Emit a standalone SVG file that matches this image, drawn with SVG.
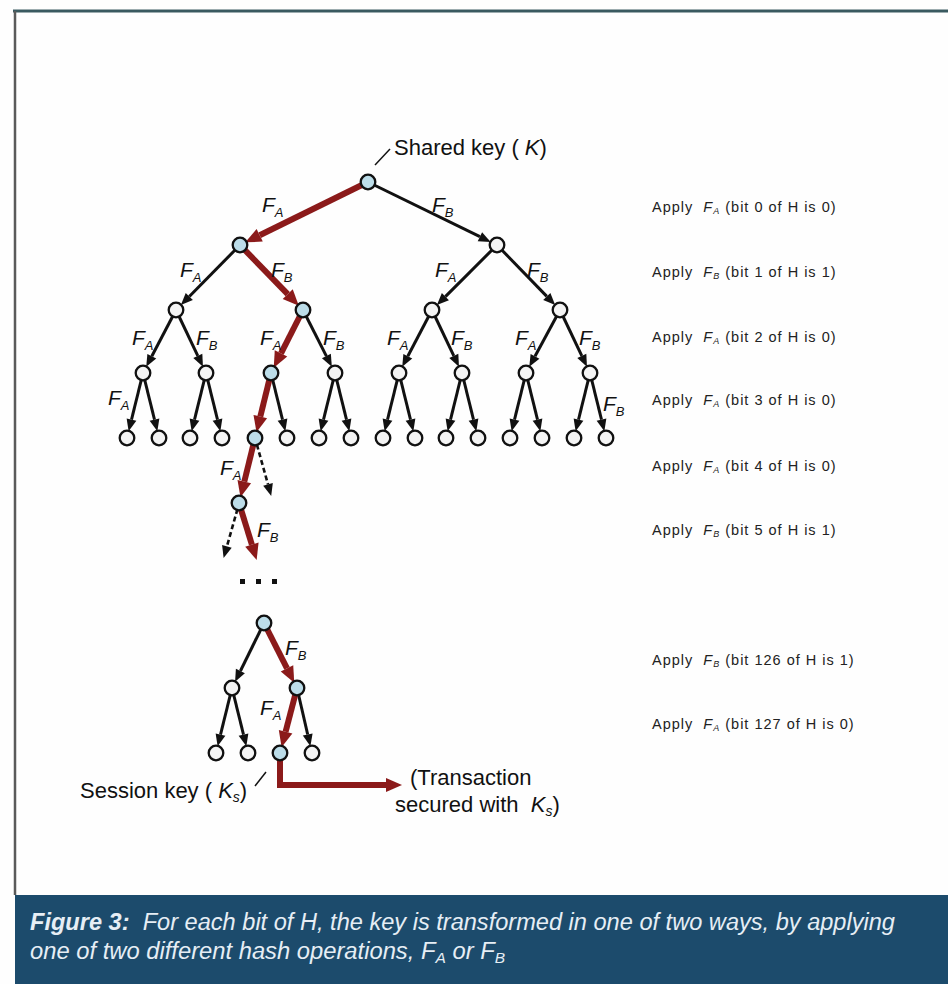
<svg xmlns="http://www.w3.org/2000/svg" width="948" height="984" viewBox="0 0 948 984">
<style>
.lbl{font-family:"Liberation Sans",Arial,sans-serif;font-style:italic;font-size:21px;fill:#111}
.sub{font-size:13px}
.ann{font-family:"Liberation Sans",Arial,sans-serif;font-size:22px;fill:#111}
.step{font-family:"Liberation Sans",Arial,sans-serif;font-size:14.5px;letter-spacing:1px;fill:#222}
.ss{font-size:9px;font-style:italic}
.cap{font-family:"Liberation Sans",Arial,sans-serif;font-style:italic;font-size:23px;fill:#e6eef5}
.blk{fill:none;stroke:#111;stroke-width:3;marker-end:url(#ab)}
.dsh{fill:none;stroke:#111;stroke-width:2.6;stroke-dasharray:5 3;marker-end:url(#ab)}
.red{fill:none;stroke:#8b1a1a;stroke-width:6;marker-end:url(#ar)}
.n{fill:#f4f4f4;stroke:#111;stroke-width:2.3}
.h{fill:#bcdde9;stroke:#111;stroke-width:2.3}
.lead{stroke:#111;stroke-width:1.5;fill:none}
</style>
<defs>
<marker id="ab" markerUnits="userSpaceOnUse" markerWidth="13" markerHeight="11" refX="0" refY="5" orient="auto" overflow="visible"><path d="M0,0 L12,5 L0,10 z" fill="#111"/></marker>
<marker id="ar" markerUnits="userSpaceOnUse" markerWidth="17" markerHeight="15" refX="0" refY="7" orient="auto" overflow="visible"><path d="M0,0 L16,7 L0,14 z" fill="#8b1a1a"/></marker>
</defs>
<rect x="0" y="0" width="948" height="984" fill="#fefefe"/>
<g id="frame">
<line x1="13" y1="11" x2="948" y2="11" stroke="#3a5a60" stroke-width="3"/>
<line x1="15" y1="11" x2="15" y2="895" stroke="#5a5a5a" stroke-width="2.5"/>
</g>
<g id="connectors">
<path class="blk" d="M368,182 L479.9,236.7"/>
<path class="blk" d="M240,245 L189.3,296.5"/>
<path class="blk" d="M497,245 L445.4,296.6"/>
<path class="blk" d="M497,245 L546.8,296.4"/>
<path class="blk" d="M176,310 L151.8,356.2"/>
<path class="blk" d="M176,310 L197.8,355.8"/>
<path class="blk" d="M303,310 L326.4,356.1"/>
<path class="blk" d="M432,310 L407.8,356.2"/>
<path class="blk" d="M432,310 L453.8,355.8"/>
<path class="blk" d="M560,310 L535,356.3"/>
<path class="blk" d="M560,310 L581.8,355.8"/>
<path class="blk" d="M143,373 L131.5,419.6"/>
<path class="blk" d="M143,373 L154.5,419.6"/>
<path class="blk" d="M206,373 L194.5,419.6"/>
<path class="blk" d="M206,373 L217.5,419.6"/>
<path class="blk" d="M271,373 L282.5,419.6"/>
<path class="blk" d="M335,373 L323.5,419.6"/>
<path class="blk" d="M335,373 L346.5,419.6"/>
<path class="blk" d="M399,373 L387.5,419.6"/>
<path class="blk" d="M399,373 L410.5,419.6"/>
<path class="blk" d="M462,373 L450.5,419.6"/>
<path class="blk" d="M462,373 L473.5,419.6"/>
<path class="blk" d="M526,373 L514.5,419.6"/>
<path class="blk" d="M526,373 L537.5,419.6"/>
<path class="blk" d="M590,373 L578.5,419.6"/>
<path class="blk" d="M590,373 L601.5,419.6"/>
<path class="dsh" d="M256.9,444.7 L268,484.4"/>
<path class="dsh" d="M237.5,509 L226.9,546.4"/>
<path class="blk" d="M264,623 L240.4,671"/>
<path class="blk" d="M232,688 L220.5,734.6"/>
<path class="blk" d="M232,688 L243.5,734.6"/>
<path class="blk" d="M297,688 L307.7,734.5"/>
<path class="red" d="M368,182 L259.7,235.3"/>
<path class="red" d="M240,245 L287.7,294.2"/>
<path class="red" d="M303,310 L281,353.4"/>
<path class="red" d="M271,373 L260.3,416.6"/>
<path class="red" d="M255,438 L244.3,481.6"/>
<path class="red" d="M239,503 L251.9,544.6"/>
<path class="red" d="M264,623 L287,668.4"/>
<path class="red" d="M297,688 L285.6,731.7"/>
<path class="red" d="M280,753 V785 H386"/>
<path class="lead" d="M375,165 L390,149"/>
<path class="lead" d="M255,786 L266,772"/>
</g>
<g id="nodes">
<circle id="root" class="h" cx="368" cy="182" r="7.3"/>
<circle id="n1a" class="h" cx="240" cy="245" r="7.3"/>
<circle id="n1b" class="n" cx="497" cy="245" r="7.3"/>
<circle id="n2a" class="n" cx="176" cy="310" r="7.3"/>
<circle id="n2b" class="h" cx="303" cy="310" r="7.3"/>
<circle id="n2c" class="n" cx="432" cy="310" r="7.3"/>
<circle id="n2d" class="n" cx="560" cy="310" r="7.3"/>
<circle id="n3a" class="n" cx="143" cy="373" r="7.3"/>
<circle id="n3b" class="n" cx="206" cy="373" r="7.3"/>
<circle id="n3c" class="h" cx="271" cy="373" r="7.3"/>
<circle id="n3d" class="n" cx="335" cy="373" r="7.3"/>
<circle id="n3e" class="n" cx="399" cy="373" r="7.3"/>
<circle id="n3f" class="n" cx="462" cy="373" r="7.3"/>
<circle id="n3g" class="n" cx="526" cy="373" r="7.3"/>
<circle id="n3h" class="n" cx="590" cy="373" r="7.3"/>
<g id="leaves">
<circle class="n" cx="127" cy="438" r="7.3"/>
<circle class="n" cx="159" cy="438" r="7.3"/>
<circle class="n" cx="190" cy="438" r="7.3"/>
<circle class="n" cx="222" cy="438" r="7.3"/>
<circle class="h" cx="255" cy="438" r="7.3"/>
<circle class="n" cx="287" cy="438" r="7.3"/>
<circle class="n" cx="319" cy="438" r="7.3"/>
<circle class="n" cx="351" cy="438" r="7.3"/>
<circle class="n" cx="383" cy="438" r="7.3"/>
<circle class="n" cx="415" cy="438" r="7.3"/>
<circle class="n" cx="446" cy="438" r="7.3"/>
<circle class="n" cx="478" cy="438" r="7.3"/>
<circle class="n" cx="510" cy="438" r="7.3"/>
<circle class="n" cx="542" cy="438" r="7.3"/>
<circle class="n" cx="574" cy="438" r="7.3"/>
<circle class="n" cx="606" cy="438" r="7.3"/>
</g>
<circle id="n5" class="h" cx="239" cy="503" r="7.3"/>
<g id="dots" fill="#111">
<rect x="240" y="579" width="5" height="5"/>
<rect x="256" y="579" width="5" height="5"/>
<rect x="272" y="579" width="5" height="5"/>
</g>
<circle id="n126" class="h" cx="264" cy="623" r="7.3"/>
<circle id="n127a" class="n" cx="232" cy="688" r="7.3"/>
<circle id="n127b" class="h" cx="297" cy="688" r="7.3"/>
<circle class="n" cx="216" cy="753" r="7.3"/>
<circle class="n" cx="248" cy="753" r="7.3"/>
<circle id="ks" class="h" cx="280" cy="753" r="7.3"/>
<circle class="n" cx="312" cy="753" r="7.3"/>
</g>
<g id="edge-labels">
<text class="lbl" x="262" y="212">F<tspan class="sub" dy="5">A</tspan></text>
<text class="lbl" x="432" y="212">F<tspan class="sub" dy="5">B</tspan></text>
<text class="lbl" x="180" y="277">F<tspan class="sub" dy="5">A</tspan></text>
<text class="lbl" x="271" y="277">F<tspan class="sub" dy="5">B</tspan></text>
<text class="lbl" x="435" y="277">F<tspan class="sub" dy="5">A</tspan></text>
<text class="lbl" x="527" y="277">F<tspan class="sub" dy="5">B</tspan></text>
<text class="lbl" x="132" y="345">F<tspan class="sub" dy="5">A</tspan></text>
<text class="lbl" x="196" y="345">F<tspan class="sub" dy="5">B</tspan></text>
<text class="lbl" x="260" y="345">F<tspan class="sub" dy="5">A</tspan></text>
<text class="lbl" x="323" y="345">F<tspan class="sub" dy="5">B</tspan></text>
<text class="lbl" x="387" y="345">F<tspan class="sub" dy="5">A</tspan></text>
<text class="lbl" x="451" y="345">F<tspan class="sub" dy="5">B</tspan></text>
<text class="lbl" x="515" y="345">F<tspan class="sub" dy="5">A</tspan></text>
<text class="lbl" x="579" y="345">F<tspan class="sub" dy="5">B</tspan></text>
<text class="lbl" x="108" y="405">F<tspan class="sub" dy="5">A</tspan></text>
<text class="lbl" x="603" y="411">F<tspan class="sub" dy="5">B</tspan></text>
<text class="lbl" x="220" y="475">F<tspan class="sub" dy="5">A</tspan></text>
<text class="lbl" x="257" y="537">F<tspan class="sub" dy="5">B</tspan></text>
<text class="lbl" x="285" y="655">F<tspan class="sub" dy="5">B</tspan></text>
<text class="lbl" x="260" y="715">F<tspan class="sub" dy="5">A</tspan></text>
</g>
<g id="annotations">
<text class="ann" x="394" y="155">Shared key ( <tspan font-style="italic">K</tspan>)</text>
<text class="ann" x="80" y="798">Session key ( <tspan font-style="italic">K</tspan><tspan font-style="italic" font-size="14" dy="4">s</tspan><tspan dy="-4">)</tspan></text>
<text class="ann" x="410" y="785">(Transaction</text>
<text class="ann" x="395" y="812">secured with&#160; <tspan font-style="italic">K</tspan><tspan font-style="italic" font-size="14" dy="4">s</tspan><tspan dy="-4">)</tspan></text>
</g>
<g id="steps">
<text class="step" x="652" y="212">Apply&#160; <tspan font-style="italic">F</tspan><tspan class="ss" dy="2">A</tspan><tspan dy="-2"> (bit 0 of H is 0)</tspan></text>
<text class="step" x="652" y="277">Apply&#160; <tspan font-style="italic">F</tspan><tspan class="ss" dy="2">B</tspan><tspan dy="-2"> (bit 1 of H is 1)</tspan></text>
<text class="step" x="652" y="342">Apply&#160; <tspan font-style="italic">F</tspan><tspan class="ss" dy="2">A</tspan><tspan dy="-2"> (bit 2 of H is 0)</tspan></text>
<text class="step" x="652" y="405">Apply&#160; <tspan font-style="italic">F</tspan><tspan class="ss" dy="2">A</tspan><tspan dy="-2"> (bit 3 of H is 0)</tspan></text>
<text class="step" x="652" y="471">Apply&#160; <tspan font-style="italic">F</tspan><tspan class="ss" dy="2">A</tspan><tspan dy="-2"> (bit 4 of H is 0)</tspan></text>
<text class="step" x="652" y="535">Apply&#160; <tspan font-style="italic">F</tspan><tspan class="ss" dy="2">B</tspan><tspan dy="-2"> (bit 5 of H is 1)</tspan></text>
<text class="step" x="652" y="665">Apply&#160; <tspan font-style="italic">F</tspan><tspan class="ss" dy="2">B</tspan><tspan dy="-2"> (bit 126 of H is 1)</tspan></text>
<text class="step" x="652" y="729">Apply&#160; <tspan font-style="italic">F</tspan><tspan class="ss" dy="2">A</tspan><tspan dy="-2"> (bit 127 of H is 0)</tspan></text>
</g>
<g id="caption">
<rect x="15" y="895" width="933" height="89" fill="#1c4b6c"/>
<text class="cap" x="30" y="930" textLength="865" lengthAdjust="spacingAndGlyphs"><tspan font-weight="bold">Figure 3:</tspan>&#160; For each bit of H, the key is transformed in one of two ways, by applying</text>
<text class="cap" x="30" y="959" textLength="475" lengthAdjust="spacingAndGlyphs">one of two different hash operations, F<tspan font-size="15" dy="4">A</tspan><tspan dy="-4"> or F</tspan><tspan font-size="15" dy="4">B</tspan></text>
</g>
</svg>
